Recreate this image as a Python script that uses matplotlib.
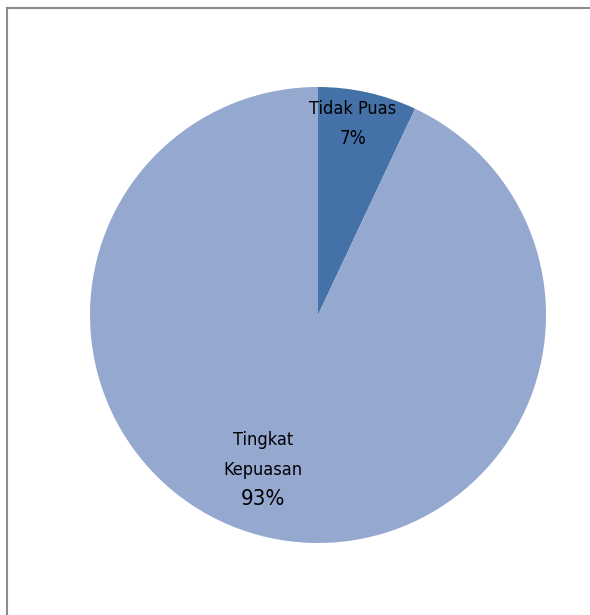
import matplotlib.pyplot as plt
from matplotlib.lines import Line2D

labels = ['Tidak Puas', 'Tingkat\nKepuasan']
values = [7, 93]
colors = ['#4472a8', '#95a9d0']

fig = plt.figure(figsize=(5.9, 6.15), dpi=100)

# pie centre at (318, 315) px, radius 228 px
cx, cy, r = 318, 315, 228
W, H = 590, 615
ax = fig.add_axes([(cx - r) / W, (H - cy - r) / H, 2 * r / W, 2 * r / H])
ax.pie(values, colors=colors, startangle=90, counterclock=False,
       wedgeprops=dict(linewidth=0))
ax.set_xlim(-1, 1)
ax.set_ylim(-1, 1)
ax.set_aspect('equal')

font = dict(family='DejaVu Sans', stretch='condensed', color='black')

def px(x, y):
    # pixel position -> data coords of the pie axes
    return (x - cx) / r, (cy - y) / r

ax.text(*px(353, 109), labels[0], ha='center', va='center', fontsize=13, **font)
ax.text(*px(353, 138), f'{values[0]}%', ha='center', va='center', fontsize=13.5, **font)
ax.text(*px(263, 455), labels[1], ha='center', va='center', fontsize=13,
        linespacing=1.85, **font)
ax.text(*px(263, 499), f'{values[1]}%', ha='center', va='center', fontsize=16, **font)

# chart area border (left and top edges visible)
fig.add_artist(Line2D([7 / W, 7 / W], [0, 1 - 8 / H], color='#8c8c8c', lw=1.5,
                      transform=fig.transFigure))
fig.add_artist(Line2D([7 / W, 1], [1 - 8 / H, 1 - 8 / H], color='#8c8c8c', lw=1.5,
                      transform=fig.transFigure))

fig.savefig('out.png', dpi=100)
